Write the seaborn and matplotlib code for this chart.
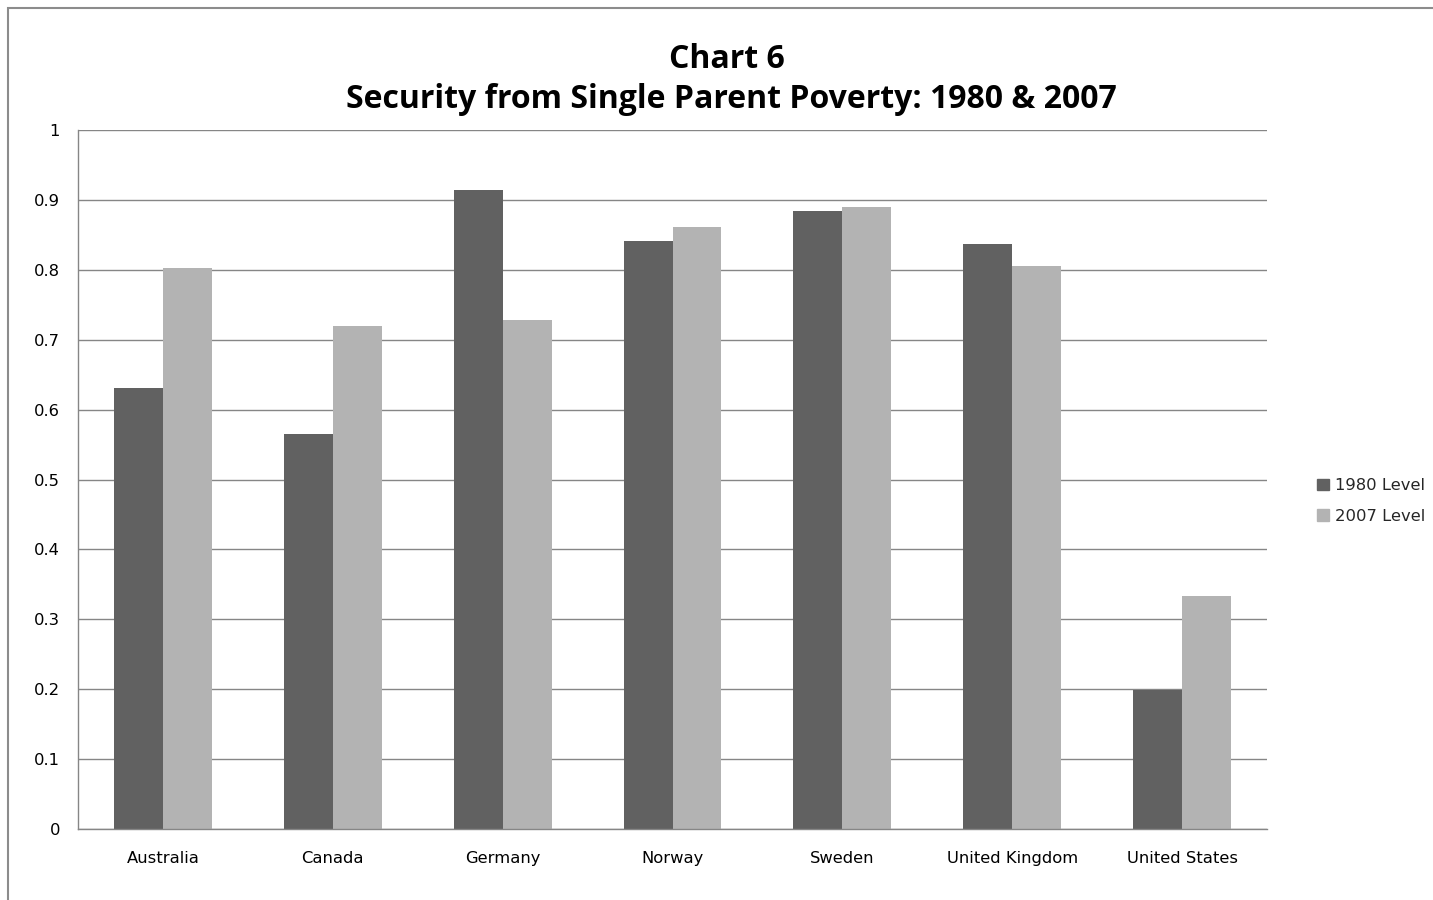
import matplotlib
matplotlib.use("Agg")
import matplotlib.pyplot as plt
import matplotlib.patches as mpatches
import seaborn as sns
import pandas as pd

countries = ["Australia", "Canada", "Germany", "Norway", "Sweden", "United Kingdom", "United States"]
level_1980 = [0.631, 0.565, 0.914, 0.841, 0.884, 0.837, 0.199]
level_2007 = [0.803, 0.720, 0.728, 0.861, 0.890, 0.805, 0.333]
series_names = ["1980 Level", "2007 Level"]
ytick_values = [0, 0.1, 0.2, 0.3, 0.4, 0.5, 0.6, 0.7, 0.8, 0.9, 1]
ytick_labels = ["0", "0.1", "0.2", "0.3", "0.4", "0.5", "0.6", "0.7", "0.8", "0.9", "1"]
title_line1 = "Chart 6"
title_line2 = "Security from Single Parent Poverty: 1980 & 2007"

df = pd.DataFrame({
    "country": countries * 2,
    "value": level_1980 + level_2007,
    "series": [series_names[0]] * len(countries) + [series_names[1]] * len(countries),
})

sns.set_theme(style="white")
plt.rcParams["font.family"] = ["DejaVu Sans"]

dark = "#616161"
light = "#b3b3b3"
grid_c = "#868686"
small_fs = 11.8

fig = plt.figure(figsize=(14.33, 9.0), dpi=100)
ax = fig.add_axes([78 / 1433, 1 - 829 / 900, (1267 - 78) / 1433, (829 - 130) / 900])

sns.barplot(data=df, x="country", y="value", hue="series", palette=[dark, light],
            width=0.576, saturation=1, ax=ax, legend=False, linewidth=0)

ax.set_ylim(0, 1)
ax.set_xlim(-0.5, len(countries) - 0.5)
ax.set_yticks(ytick_values)
ax.set_yticklabels(ytick_labels)
ax.set_xlabel("")
ax.set_ylabel("")
ax.yaxis.grid(True, color=grid_c, linewidth=1)
ax.set_axisbelow(True)
for s in ["top", "right"]:
    ax.spines[s].set_visible(False)
for s in ["left", "bottom"]:
    ax.spines[s].set_color(grid_c)
    ax.spines[s].set_linewidth(1)
ax.tick_params(axis="y", length=0, pad=13, labelsize=small_fs, labelcolor="black")
ax.tick_params(axis="x", length=0, pad=15.5, labelsize=small_fs, labelcolor="black")

fig.text(727 / 1433, 1 - 59 / 900, title_line1, ha="center", va="center",
         fontsize=23, fontweight="bold", color="black", family="Open Sans")
fig.text(731 / 1433, 1 - 100 / 900, title_line2, ha="center", va="center",
         fontsize=23, fontweight="bold", color="black", family="Open Sans")

handles = [mpatches.Patch(color=dark, label=series_names[0]),
           mpatches.Patch(color=light, label=series_names[1])]
fig.legend(handles=handles, loc="center left", bbox_to_anchor=(1302 / 1433, 1 - 501 / 900),
           frameon=False, fontsize=small_fs, handlelength=0.72, handleheight=0.72,
           handletextpad=0.4, labelspacing=0.95)

border = mpatches.Rectangle((8 / 1433, -0.2), 1.2, 1 - 8 / 900 + 0.2,
                            transform=fig.transFigure, fill=False,
                            edgecolor="#8c8c8c", linewidth=1.5, clip_on=False)
fig.patches.append(border)

fig.savefig("out.png", dpi=100)
